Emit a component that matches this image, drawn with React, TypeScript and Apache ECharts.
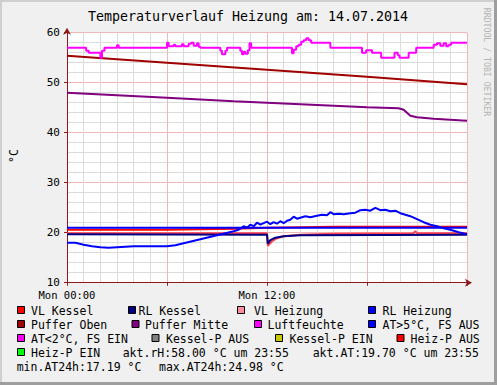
import React, { useEffect, useRef } from 'react';
import * as echarts from 'echarts';

const chartTitle = 'Temperaturverlauf Heizung am: 14.07.2014';
const yAxisName = '°C';
const watermark = 'RRDTOOL / TOBI OETIKER';
const xTickLabels: Record<number, string> = { 0: 'Mon 00:00', 12: 'Mon 12:00' };

// [hour, °C]
const vlKessel = [[0, 20.6], [6, 20.6], [10, 20.8], [12, 21.0], [16, 21.2], [24, 21.2]];
const rlKessel = [[0, 19.7], [12.0, 19.6], [12.05, 17.8], [12.2, 18.5], [12.5, 19.0], [13, 19.3], [14, 19.5], [24, 19.6]];
const vlHeizung = [[0, 19.9], [12.0, 19.9], [12.05, 17.4], [12.3, 18.3], [12.6, 18.9], [13, 19.3], [14, 19.6], [16, 19.8], [20.8, 19.9], [20.9, 20.3], [21.0, 19.9], [24, 19.9]];
const rlHeizung = [[0, 21.0], [12, 21.0], [24, 21.0]];
const pufferOben = [[0, 55.4], [6, 54.0], [12, 52.6], [18, 51.2], [24, 49.7]];
const pufferMitte = [[0, 48.0], [3, 47.5], [6, 47.0], [10, 46.3], [14, 45.7], [18, 45.1], [19.9, 44.9], [20.2, 44.6], [20.4, 44.0], [20.6, 43.4], [21, 43.1], [22, 42.8], [24, 42.4]];
const luftfeuchte = [
  [0, 57], [1.15, 56.4], [1.3, 56], [2.0, 55], [2.1, 56.4], [2.25, 57], [3.0, 57.5], [3.1, 57],
  [6.0, 58], [6.1, 57.3], [6.4, 57.6], [6.5, 57.3], [6.9, 57.7], [7.0, 57.3], [7.3, 57.8], [7.45, 58],
  [7.6, 57.4], [7.8, 57.9], [7.9, 57.2], [8.0, 57], [9.2, 56.4], [9.3, 55.7], [9.5, 56.4], [9.6, 57],
  [10.4, 56.4], [10.5, 55.7], [10.6, 56.2], [10.7, 55.8], [10.85, 56.5], [10.95, 57.9], [11.05, 57],
  [13.5, 55.9], [13.6, 56.6], [13.75, 57.3], [13.9, 57.6], [14.05, 58.2], [14.2, 58.5], [14.35, 58.9],
  [14.5, 58.5], [14.65, 58], [15.8, 57], [17.7, 56], [17.95, 56.5], [18.3, 56], [18.85, 55], [19.65, 56],
  [19.85, 55.5], [19.95, 55], [20.5, 56], [20.95, 57], [22.0, 57.6], [22.2, 57.9], [22.4, 57.4],
  [22.6, 57.9], [22.75, 57.3], [22.9, 57.6], [23.05, 58], [24.0, 58],
];
const aussenTemp = [
  [0, 18.0], [0.5, 18.0], [1.0, 17.6], [1.5, 17.3], [2.0, 17.1], [2.5, 17.0], [3.0, 17.1], [3.5, 17.2],
  [4.0, 17.3], [5.0, 17.3], [6.0, 17.3], [6.5, 17.5], [7.0, 17.9], [7.5, 18.3], [8.0, 18.7], [8.5, 19.1],
  [9.0, 19.5], [9.5, 19.9], [10.0, 20.3], [10.3, 20.6], [10.6, 21.3], [10.8, 21.0], [11.0, 21.6],
  [11.2, 21.3], [11.4, 22.0], [11.6, 21.6], [11.8, 21.9], [12.0, 22.2], [12.2, 21.7], [12.4, 22.1],
  [12.6, 21.8], [12.8, 22.3], [13.0, 21.9], [13.2, 22.4], [13.4, 22.6], [13.6, 23.2], [13.8, 22.8],
  [14.0, 23.0], [14.3, 23.3], [14.6, 23.1], [15.0, 23.4], [15.3, 23.6], [15.6, 23.5], [15.8, 24.1],
  [16.0, 23.7], [16.3, 23.8], [16.6, 23.7], [17.0, 23.9], [17.3, 24.0], [17.6, 24.5], [17.9, 24.6],
  [18.2, 24.4], [18.5, 24.98], [18.8, 24.5], [19.1, 24.6], [19.4, 24.3], [19.7, 24.4], [20.0, 23.9],
  [20.3, 23.6], [20.6, 23.3], [21.0, 22.7], [21.4, 22.1], [21.8, 21.6], [22.2, 21.3], [22.6, 20.9],
  [23.0, 20.6], [23.5, 20.1], [24.0, 19.7],
];

const legendNames = [
  'VL Kessel', 'RL Kessel', 'VL Heizung', 'RL Heizung',
  'Puffer Oben', 'Puffer Mitte', 'Luftfeuchte', 'AT>5°C, FS AUS',
  'AT<2°C, FS EIN', 'Kessel-P AUS', 'Kessel-P EIN', 'Heiz-P AUS',
  'Heiz-P EIN',
];
const legendColors = [
  '#ff0000', '#000080', '#ff8ca0', '#0000ff',
  '#a00000', '#800080', '#ff00ff', '#0000ff',
  '#ff00ff', '#808080', '#c8c800', '#ff0000',
  '#00ff00',
];
const statusTexts = ['akt.rH:58.00 °C um 23:55', 'akt.AT:19.70 °C um 23:55', 'min.AT24h:17.19 °C', 'max.AT24h:24.98 °C'];

// layout only: [rowY, boxX, textX]
const legendLayout = [
  [311, 17, 31], [311, 128, 138.5], [311, 237, 254], [311, 368, 382.5],
  [325, 17, 31], [325, 131.5, 145], [325, 254, 267.5], [325, 368, 382.5],
  [339, 17, 31], [339, 151.5, 166], [339, 275, 289.5], [339, 396.5, 410.5],
  [353, 17, 31],
];
const statusLayout = [[353, 122.7], [353, 312.7], [367, 16.7], [367, 159]];

const MONO = 'DejaVu Sans Mono';

export default function App() {
  const ref = useRef<HTMLDivElement>(null);
  useEffect(() => {
    if (!ref.current) return;
    const chart = echarts.init(ref.current, undefined, { renderer: 'svg' });
    const axisColor = '#8b1a1a';
    const mk = (name: string, data: number[][], color: string, extra: any = {}) => ({
      name, type: 'line', data, symbol: 'none', showSymbol: false,
      lineStyle: { color, width: 2 }, itemStyle: { color }, ...extra,
    });
    const graphic: any[] = [];
    legendNames.forEach((n, i) => {
      const [ry, bx, tx] = legendLayout[i];
      graphic.push({ type: 'rect', shape: { x: bx + 0.5, y: ry - 4.5, width: 7, height: 7 }, style: { fill: legendColors[i], stroke: '#000', lineWidth: 1 } });
      graphic.push({ type: 'text', x: tx, y: ry, style: { text: n, font: `11.5px "${MONO}"`, fill: '#000', verticalAlign: 'middle', align: 'left' } });
    });
    statusTexts.forEach((t, i) => {
      const [ry, tx] = statusLayout[i];
      graphic.push({ type: 'text', x: tx, y: ry, style: { text: t, font: `11.5px "${MONO}"`, fill: '#000', verticalAlign: 'middle', align: 'left' } });
    });
    graphic.push({ type: 'text', x: 248, y: 16, style: { text: chartTitle, font: `13.3px "${MONO}"`, fill: '#000', align: 'center', verticalAlign: 'middle' } });
    graphic.push({ type: 'text', x: 14, y: 156, rotation: Math.PI / 2, style: { text: yAxisName, font: `11.5px "${MONO}"`, fill: '#000', align: 'center', verticalAlign: 'middle' } });
    graphic.push({ type: 'text', x: 487, y: 62, rotation: -Math.PI / 2, style: { text: watermark, font: `8.2px "${MONO}"`, fill: '#b4b4b4', align: 'center', verticalAlign: 'middle' } });
    graphic.push({ type: 'rect', shape: { x: 0, y: 0, width: 497, height: 2 }, style: { fill: '#cfcfcf' } });
    graphic.push({ type: 'rect', shape: { x: 0, y: 0, width: 2, height: 385 }, style: { fill: '#cfcfcf' } });
    graphic.push({ type: 'rect', shape: { x: 494, y: 0, width: 3, height: 385 }, style: { fill: '#9e9e9e' } });
    graphic.push({ type: 'rect', shape: { x: 0, y: 382, width: 497, height: 3 }, style: { fill: '#9e9e9e' } });

    chart.setOption({
      animation: false,
      backgroundColor: '#f0f0f0',
      grid: { left: 67, right: 30, top: 32.7, bottom: 102.3, show: true, backgroundColor: '#ffffff', borderWidth: 0 },
      xAxis: {
        type: 'value', min: 0, max: 24, interval: 6,
        axisLine: { show: true, lineStyle: { color: axisColor, width: 1 }, symbol: ['none', 'arrow'], symbolSize: [6, 7], symbolOffset: [0, 5] },
        axisTick: { show: true, length: 3, lineStyle: { color: axisColor } },
        minorTick: { show: false, splitNumber: 6 },
        axisLabel: { formatter: (v: number) => xTickLabels[v] ?? '', fontFamily: MONO, fontSize: 10.5, color: '#000', margin: 7 },
        splitLine: { show: true, lineStyle: { color: '#efb8b8', width: 1 } },
        minorSplitLine: { show: true, lineStyle: { color: '#dcdcdc', width: 1 } },
      },
      yAxis: {
        type: 'value', min: 10, max: 60, interval: 10,
        axisLine: { show: true, lineStyle: { color: axisColor, width: 1 }, symbol: ['none', 'arrow'], symbolSize: [6, 7], symbolOffset: [0, 5] },
        axisTick: { show: true, length: 3, lineStyle: { color: axisColor } },
        minorTick: { show: false, splitNumber: 5 },
        axisLabel: { fontFamily: MONO, fontSize: 11, color: '#000', margin: 7 },
        splitLine: { show: true, lineStyle: { color: '#efb8b8', width: 1 } },
        minorSplitLine: { show: true, lineStyle: { color: '#dcdcdc', width: 1 } },
      },
      series: [
        mk('VL Heizung', vlHeizung, '#ff4050'),
        mk('RL Kessel', rlKessel, '#000080'),
        mk('VL Kessel', vlKessel, '#ff0000'),
        mk('RL Heizung', rlHeizung, '#0000ff'),
        mk('Puffer Oben', pufferOben, '#a00000'),
        mk('Puffer Mitte', pufferMitte, '#800080'),
        mk('Luftfeuchte', luftfeuchte, '#ff00ff', { step: 'end' }),
        mk('AT>5°C, FS AUS', aussenTemp, '#0000ff'),
      ],
      graphic,
    });
    return () => chart.dispose();
  }, []);
  return <div ref={ref} style={{ position: 'fixed', left: 0, top: 0, width: 497, height: 385 }} />;
}
